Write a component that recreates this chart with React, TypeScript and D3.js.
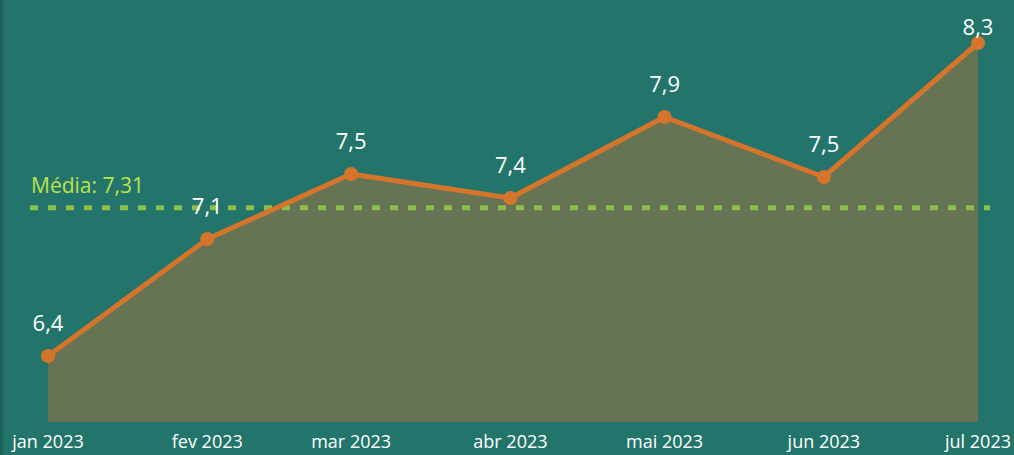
import React from "react";
import * as d3 from "d3";

const months = ["2023-01-01", "2023-02-01", "2023-03-01", "2023-04-01", "2023-05-01", "2023-06-01", "2023-07-01"];
const monthLabels = ["jan 2023", "fev 2023", "mar 2023", "abr 2023", "mai 2023", "jun 2023", "jul 2023"];
const values = [6.4, 7.11, 7.505, 7.359, 7.851, 7.487, 8.3];
const meanValue = 7.31;
const meanLabel = "Média: 7,31";

const W = 1014;
const H = 455;
const FONT = "'Segoe UI', 'Open Sans', 'Noto Sans', sans-serif";

export default function App() {
  const parse = d3.timeParse("%Y-%m-%d");
  const dates = months.map((m) => parse(m) as Date);
  const x = d3.scaleTime().domain([dates[0], dates[dates.length - 1]]).range([48, 978]);
  const y = d3.scaleLinear().domain([6, 8.3]).range([422, 43]);
  const data = dates.map((d, i) => ({ d, v: values[i] }));

  const area = d3
    .area<{ d: Date; v: number }>()
    .x((p) => x(p.d))
    .y0(y(6))
    .y1((p) => y(p.v));
  const line = d3
    .line<{ d: Date; v: number }>()
    .x((p) => x(p.d))
    .y((p) => y(p.v));
  const fmt = (v: number) => d3.format(".1f")(v).replace(".", ",");
  const my = y(meanValue) + 1.5;

  return (
    <svg
      width={W}
      height={H}
      style={{ position: "absolute", left: 0, top: 0, display: "block" }}
      fontFamily={FONT}
    >
      <defs>
        <linearGradient id="edge" x1="0" x2="1" y1="0" y2="0">
          <stop offset="0" stopColor="#1b5f57" />
          <stop offset="1" stopColor="#23756b" />
        </linearGradient>
      </defs>
      <rect x={0} y={0} width={W} height={H} fill="#23756b" />
      <rect x={0} y={0} width={6} height={H} fill="url(#edge)" />
      <path d={area(data) || ""} fill="#667454" />
      <line
        x1={30}
        x2={990}
        y1={my}
        y2={my}
        stroke="#8dbf4c"
        strokeWidth={5}
        strokeDasharray="8 10"
      />
      <text x={31} y={my - 15} fill="#bde04c" fontSize={21}>
        {meanLabel}
      </text>
      <path d={line(data) || ""} fill="none" stroke="#d5742b" strokeWidth={5} strokeLinejoin="round" />
      {data.map((p, i) => (
        <circle key={"c" + i} cx={x(p.d)} cy={y(p.v)} r={7} fill="#d5742b" />
      ))}
      {data.map((p, i) => (
        <text
          key={"l" + i}
          x={x(p.d)}
          y={Math.max(y(p.v) - 25, 35)}
          textAnchor="middle"
          fill="#ffffff"
          fontSize={22}
        >
          {fmt(p.v)}
        </text>
      ))}
      {dates.map((d, i) => (
        <text key={"t" + i} x={x(d)} y={448} textAnchor="middle" fill="#ffffff" fontSize={18}>
          {monthLabels[i]}
        </text>
      ))}
    </svg>
  );
}
